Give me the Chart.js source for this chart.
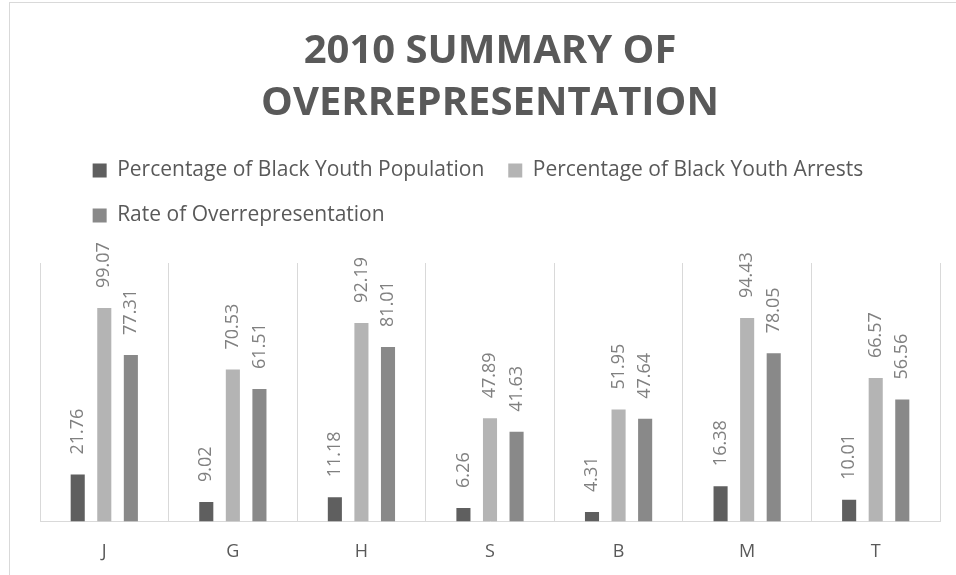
<!DOCTYPE html>
<html>
<head>
<meta charset="utf-8">
<script src="https://cdn.jsdelivr.net/npm/chart.js@4.4.1/dist/chart.umd.min.js"></script>
<style>
  html, body { margin: 0; padding: 0; background: #fff; overflow: hidden; }
  #frame { position: absolute; left: 9px; top: 2px; width: 1000px; height: 640px; border: 1px solid #d9d9d9; }
  #wrap { position: absolute; left: 0; top: 0; width: 956px; height: 575px; }
</style>
</head>
<body>
<div id="frame"></div>
<div id="wrap"><canvas id="myChart"></canvas></div>
<script>
// values
const categories = ['J', 'G', 'H', 'S', 'B', 'M', 'T'];
const youthPopulation = [21.76, 9.02, 11.18, 6.26, 4.31, 16.38, 10.01];
const youthArrests = [99.07, 70.53, 92.19, 47.89, 51.95, 94.43, 66.57];
const overrepresentation = [77.31, 61.51, 81.01, 41.63, 47.64, 78.05, 56.56];
const seriesNames = [
  'Percentage of Black Youth Population',
  'Percentage of Black Youth Arrests',
  'Rate of Overrepresentation'
];
const yMax = 120;

Chart.defaults.font.family = '"Open Sans", sans-serif';

// extra room under the legend + rows left aligned as a centred block
const legendSpacing = {
  id: 'legendSpacing',
  beforeInit(chart) {
    const fit = chart.legend.fit;
    chart.legend.fit = function () {
      fit.bind(chart.legend)();
      this.height += 27;
    };
  },
  afterUpdate(chart) {
    const lg = chart.legend;
    const pad = lg.options.labels.padding;
    const rowWidth = lg.lineWidths[0] - pad;
    lg.left = (chart.width - rowWidth) / 2 - pad;
    lg.adjustHitBoxes();
  }
};

// rotated value labels above each bar
const barValueLabels = {
  id: 'barValueLabels',
  afterDatasetsDraw(chart) {
    const ctx = chart.ctx;
    ctx.save();
    ctx.font = '18px "Open Sans"';
    ctx.fillStyle = '#808080';
    ctx.textAlign = 'left';
    ctx.textBaseline = 'middle';
    chart.data.datasets.forEach((ds, i) => {
      chart.getDatasetMeta(i).data.forEach((bar, j) => {
        ctx.save();
        ctx.translate(bar.x, bar.y - 20);
        ctx.rotate(-Math.PI / 2);
        ctx.fillText(ds.data[j].toFixed(2), 0, 0);
        ctx.restore();
      });
    });
    ctx.restore();
  }
};

const ctx = document.getElementById('myChart').getContext('2d');
new Chart(ctx, {
  type: 'bar',
  data: {
    labels: categories,
    datasets: [
      { label: seriesNames[0], data: youthPopulation, backgroundColor: '#5f5f5f', borderWidth: 0 },
      { label: seriesNames[1], data: youthArrests, backgroundColor: '#b4b4b4', borderWidth: 0 },
      { label: seriesNames[2], data: overrepresentation, backgroundColor: '#898989', borderWidth: 0 }
    ]
  },
  options: {
    responsive: true,
    maintainAspectRatio: false,
    animation: false,
    categoryPercentage: 0.62,
    barPercentage: 0.53,
    layout: { padding: { left: 40, right: 16, top: 0, bottom: -8 } },
    plugins: {
      title: {
        display: true,
        text: ['2010 SUMMARY OF', 'OVERREPRESENTATION'],
        color: '#595959',
        font: { size: 40, weight: 'bold', lineHeight: 52 / 40 },
        padding: { top: 26, bottom: 6 }
      },
      legend: {
        position: 'top',
        align: 'start',
        labels: {
          color: '#595959',
          font: { size: 21 },
          boxWidth: 14,
          boxHeight: 14,
          padding: 24
        }
      },
      tooltip: { enabled: false }
    },
    scales: {
      x: {
        grid: { color: '#d9d9d9', drawTicks: false },
        border: { color: '#d9d9d9' },
        ticks: { color: '#595959', font: { size: 18 }, padding: 20 }
      },
      y: { display: false, min: 0, max: yMax }
    }
  },
  plugins: [legendSpacing, barValueLabels]
});
</script>
</body>
</html>
